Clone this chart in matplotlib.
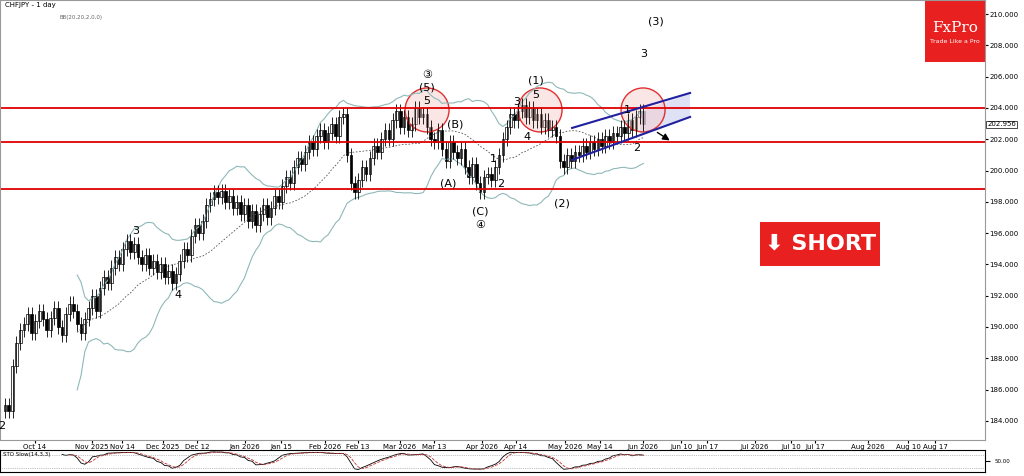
import numpy as np
import matplotlib
matplotlib.use("Agg")
import matplotlib.pyplot as plt
from matplotlib.patches import Ellipse, Polygon, Rectangle
import pandas as pd

closes = [185.0,184.6,187.5,189.0,189.8,
 190.2,190.8,189.6,190.4,191.0,190.5,189.8,190.6,191.2,190.0,189.5,190.8,191.5,191.0,190.2,189.6,190.5,191.2,192.0,
 191.0,192.5,193.2,192.8,193.8,194.5,194.0,195.0,195.5,194.8,195.3,
 194.5,194.0,194.6,193.8,194.2,193.5,194.0,193.2,193.6,192.8,193.4,
 194.2,195.0,194.6,195.8,196.5,196.0,196.8,197.8,198.2,198.6,198.3,198.7,198.0,
 198.4,197.6,198.0,197.2,197.8,196.8,197.4,196.5,197.2,197.8,197.0,197.6,
 198.4,198.0,199.0,199.6,199.2,200.2,200.8,200.4,201.2,201.8,201.4,202.2,
 202.6,201.8,202.4,203.0,202.2,203.4,203.6,201.0,199.2,
 198.6,199.4,200.2,199.8,200.8,201.6,201.2,202.0,
 202.6,202.0,203.2,203.8,202.8,203.4,202.6,203.0,204.0,203.4,203.6,
 202.8,202.0,201.8,202.6,201.4,200.6,201.8,201.2,200.8,201.4,200.2,
 199.6,200.4,199.2,198.6,199.6,199.8,199.4,200.2,201.0,202.0,
 202.8,203.6,203.2,203.8,204.2,203.4,204.0,203.2,203.6,202.8,
 203.2,202.6,202.8,202.2,200.6,200.2,201.0,200.6,201.2,
 201.0,201.6,201.2,201.8,201.4,202.0,201.6,202.2,201.8,202.4,202.2,202.8,202.4,203.2,202.6,203.4,203.8,202.956]
levels = [204.0, 201.8, 198.8]
date_labels = ["Oct 14","Nov 2025","Nov 14","Dec 2025","Dec 12","Jan 2026","Jan 15","Feb 2026","Feb 13",
               "Mar 2026","Mar 13","Apr 2026","Apr 14","May 2026","May 14","Jun 2026","Jun 10","Jun 17",
               "Jul 2026","Jul 10","Jul 17","Aug 2026","Aug 10","Aug 17"]
date_px = [35,92,122,163,197,245,281,325,358,400,434,482,516,565,600,643,681,707,755,791,815,868,908,935]

def xi(px): return (px-5)/3.8
def yp(py): return 184+(421-py)/15.65

c = np.array(closes); n = len(c)
o = np.concatenate([[c[0]-0.4], c[:-1]])
hi = np.maximum(o,c)+0.45; lo = np.minimum(o,c)-0.45
idx = np.arange(n)

fig = plt.figure(figsize=(10.24,4.76), dpi=100)
ax = fig.add_axes([0.0,0.076,0.962,0.924])
ax.set_xlim(xi(0), xi(985)); ax.set_ylim(yp(440), yp(0))
for s in ax.spines.values(): s.set_color("#999")
sr = pd.Series(c); ma = sr.rolling(20).mean(); sd = sr.rolling(20).std(ddof=0)
ax.plot(idx, ma+2*sd, color="#8fb8b8", lw=0.8)
ax.plot(idx, ma-2*sd, color="#8fb8b8", lw=0.8)
ax.plot(idx, ma, color="#555", lw=0.6, ls=(0,(2,2)))
for i in idx:
    ax.vlines(i, lo[i], hi[i], color="black", lw=0.6)
    up = c[i] >= o[i]
    ax.add_patch(Rectangle((i-0.35, min(o[i],c[i])), 0.7, max(abs(c[i]-o[i]),0.05),
                 facecolor="white" if up else "black", edgecolor="black", lw=0.5))
for L in levels: ax.axhline(L, color="#e00000", lw=1.3)
ax.add_patch(Polygon([(xi(640),yp(112)),(xi(690),yp(93)),(xi(690),yp(117)),(xi(640),yp(135))], closed=True, facecolor="#c8d0ee", alpha=0.6, lw=0))
ax.plot([xi(572),xi(690)],[yp(128),yp(93)], color="#2020a0", lw=1.5)
ax.plot([xi(572),xi(690)],[yp(160),yp(117)], color="#2020a0", lw=1.5)
ax.annotate("", xy=(xi(672),yp(142)), xytext=(xi(655),yp(131)), arrowprops=dict(arrowstyle="-|>", color="black", lw=1))
for cx in [427,540,643]:
    ax.add_patch(Ellipse((xi(cx),yp(110)), 44/3.8, 44/15.65, facecolor="#f8c8c8", alpha=0.45, edgecolor="none"))
    ax.add_patch(Ellipse((xi(cx),yp(110)), 44/3.8, 44/15.65, facecolor="none", edgecolor="#e03030", lw=1))
texts = [(427,75,"③"),(427,88,"(5)"),(427,101,"5"),(455,125,"(B)"),(448,184,"(A)"),(480,212,"(C)"),(480,225,"④"),
         (536,81,"(1)"),(536,95,"5"),(517,102,"3"),(527,137,"4"),(493,159,"1"),(501,184,"2"),(562,204,"(2)"),
         (656,22,"(3)"),(644,54,"3"),(627,110,"1"),(637,148,"2"),(136,231,"3"),(178,295,"4"),(2,426,"2")]
for px,py,t in texts:
    ax.text(xi(px),yp(py),t,ha="center",va="center",fontsize=8,family=["DejaVu Sans"])
ax.text(0.005,0.995,"CHFJPY - 1 day",transform=ax.transAxes,fontsize=5,va="top")
ax.text(0.06,0.965,"BB(20,20,2,0,0)",transform=ax.transAxes,fontsize=4,va="top",color="#666")
ax.add_patch(Rectangle((xi(760),yp(266)), 120/3.8, 44/15.65, facecolor="#e82020", lw=0))
ax.text(xi(820),yp(244),"⬇ SHORT",color="white",fontsize=16,fontweight="bold",ha="center",va="center")
ax.add_patch(Rectangle((xi(925),yp(62)), 60/3.8, 62/15.65, facecolor="#e82020", lw=0, clip_on=False))
ax.text(xi(955),yp(28),"FxPro",color="white",fontsize=11,ha="center",va="center",family="DejaVu Serif")
ax.text(xi(955),yp(42),"Trade Like a Pro",color="white",fontsize=4.5,ha="center",va="center")
ax.set_xticks([xi(p) for p in date_px]); ax.set_xticklabels(date_labels, fontsize=5)
ax.tick_params(axis="x", length=2, pad=1)
ax.yaxis.tick_right(); ax.set_yticks(np.arange(184,211,2))
ax.set_yticklabels([f"{v:.3f}" for v in np.arange(184,211,2)], fontsize=5)
ax.tick_params(axis="y", length=2, pad=1)
ax.text(1.002, c[-1], f"{c[-1]:.3f}", transform=ax.get_yaxis_transform(), fontsize=5, va="center",
        bbox=dict(facecolor="white", edgecolor="black", pad=0.5, lw=0.5))
ax2 = fig.add_axes([0.0,0.008,0.962,0.046], sharex=ax)
hh = pd.Series(hi).rolling(14).max(); ll = pd.Series(lo).rolling(14).min()
k = (100*(sr-ll)/(hh-ll)).rolling(3).mean(); d = k.rolling(3).mean()
ax2.plot(idx,k,color="black",lw=0.6); ax2.plot(idx,d,color="#c03030",lw=0.6,ls="--")
ax2.axhline(80,color="#888",lw=0.5,ls=":"); ax2.axhline(20,color="#888",lw=0.5,ls=":")
ax2.set_ylim(0,100); ax2.yaxis.tick_right(); ax2.set_yticks([50]); ax2.set_yticklabels(["50.00"],fontsize=4)
ax2.tick_params(axis="x",bottom=False,labelbottom=False)
ax2.text(0.003,0.9,"STO Slow(14,3,3)",transform=ax2.transAxes,fontsize=4,va="top")
fig.savefig("out.png", dpi=100)
